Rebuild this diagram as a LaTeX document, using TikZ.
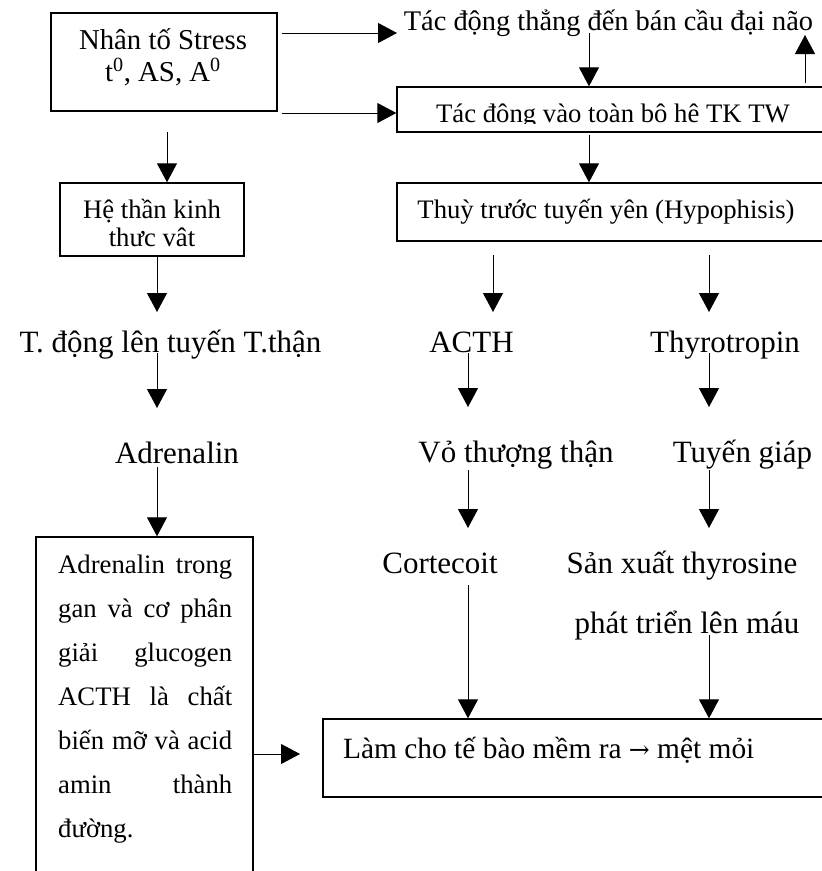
\documentclass[tikz,border=0pt]{standalone}
\usepackage{fontspec}
\setmainfont{Liberation Serif}
\newfontfamily\arrowfont{DejaVu Serif}
\usetikzlibrary{arrows.meta}
\begin{document}
\begin{tikzpicture}[x=1pt,y=-1pt,
  box/.style={draw, line width=1.4pt, inner sep=0pt},
  arr/.style={line width=1pt, -{Triangle[length=19pt,width=20pt]}},
  tbig/.style={inner sep=0pt, anchor=base, font=\fontsize{31}{36}\selectfont},
  tbox/.style={inner sep=0pt, anchor=base, font=\fontsize{26.7}{30}\selectfont},
  tstress/.style={inner sep=0pt, anchor=base, font=\fontsize{28.8}{32}\selectfont},
  ttop/.style={inner sep=0pt, anchor=base, font=\fontsize{28.4}{32}\selectfont},
  tlam/.style={inner sep=0pt, anchor=base west, font=\fontsize{29.4}{32}\selectfont},
  tjust/.style={inner sep=0pt, anchor=base west, font=\fontsize{26.7}{30}\selectfont}
]
\useasboundingbox (0,0) rectangle (822,871);
\clip (0,0) rectangle (822,871);

% boxes
\node[box, minimum width=226pt, minimum height=98pt] (stress) at (164,62) {};
\node[box, minimum width=433pt, minimum height=45pt] (tk) at (613.5,109.5) {};
\node[box, minimum width=433pt, minimum height=58pt] (thuy) at (613.5,212) {};
\node[box, minimum width=184pt, minimum height=73pt] (he) at (152,219.5) {};
\node[box, minimum width=217pt, minimum height=343pt] (adr) at (144.5,708.5) {};
\node[box, minimum width=507pt, minimum height=78pt] (lam) at (576.5,758) {};

% texts
\node[tstress] (s1) at (163,49) {Nhân tố Stress};
\node[tstress] (s2) at (163,81) {t\textsuperscript{0}, AS, A\textsuperscript{0}};
\node[ttop] (toptext) at (608.5,30) {Tác động thẳng đến bán cầu đại não};
\begin{scope}
  \clip (398,88) rectangle (822,123.5);
  \node[tbox] (tktext) at (613,122.5) {Tác đông vào toàn bô hê TK TW};
\end{scope}
\node[tbox] (thuytext) at (606,218) {Thuỳ trước tuyến yên (Hypophisis)};
\node[tbox] (he1) at (152,218) {Hệ thần kinh};
\begin{scope}
  \clip (61,184) rectangle (243,246.5);
  \node[tbox] (he2) at (152,246) {thưc vât};
\end{scope}
\node[tbig] (tdong) at (170.5,352) {T. động lên tuyến T.thận};
\node[tbig] (adren) at (177,463) {Adrenalin};
\node[tbig] (acth) at (471.5,352) {ACTH};
\node[tbig] (thyro) at (725,352) {Thyrotropin};
\node[tbig] (vo) at (516,462) {Vỏ thượng thận};
\node[tbig] (tuyen) at (742.5,462) {Tuyến giáp};
\node[tbig] (cort) at (440,573) {Cortecoit};
\node[tbig] (sanxuat) at (682,573) {Sản xuất thyrosine};
\node[tbig] (phat) at (687,633) {phát triển lên máu};

\node[tjust] (j1) at (58,573) {\makebox[174pt][s]{Adrenalin trong}};
\node[tjust] (j2) at (58,617) {\makebox[174pt][s]{gan và cơ phân}};
\node[tjust] (j3) at (58,661) {\makebox[174pt][s]{giải glucogen}};
\node[tjust] (j4) at (58,705) {\makebox[174pt][s]{ACTH là chất}};
\node[tjust] (j5) at (58,749) {\makebox[174pt][s]{biến mỡ và acid}};
\node[tjust] (j6) at (58,793) {\makebox[174pt][s]{amin thành}};
\node[tjust] (j7) at (58,837) {đường.};

\node[tlam] (lamtext) at (343,758) {Làm cho tế bào mềm ra {\arrowfont\fontsize{25}{30}\selectfont →} mệt mỏi};

% connector end points
\coordinate (a1s) at (282,33);
\coordinate (a1e) at (397,33);
\coordinate (a2s) at (282,113);
\coordinate (b1s) at (589,33);
\coordinate (b2s) at (805,83);
\coordinate (b2e) at (805,35);
\coordinate (b3s) at (589,135);
\coordinate (c0s) at (167,132);
\coordinate (c1e) at (157,312);
\coordinate (c2s) at (157,353);
\coordinate (c2e) at (157,408);
\coordinate (c3s) at (157,467);
\coordinate (d1s) at (493,255);
\coordinate (d1e) at (493,312);
\coordinate (d2s) at (709,255);
\coordinate (d2e) at (709,312);
\coordinate (e1s) at (468,353);
\coordinate (e1e) at (468,407);
\coordinate (e2s) at (709,353);
\coordinate (e2e) at (709,407);
\coordinate (f1s) at (468,470);
\coordinate (f1e) at (468,528);
\coordinate (f2s) at (709,470);
\coordinate (f2e) at (709,528);
\coordinate (g1s) at (468,585);
\coordinate (g2s) at (709,635);
\coordinate (he1x) at (300,754);

% connectors
\draw[arr] (a1s) -- (a1e);
\draw[arr] (a2s) -- (a2s -| tk.west);
\draw[arr] (b1s) -- (b1s |- tk.north);
\draw[arr] (b2s) -- (b2e);
\draw[arr] (b3s) -- (b3s |- thuy.north);
\draw[arr] (c0s) -- (c0s |- he.north);
\draw[arr] (c1e |- he.south) -- (c1e);
\draw[arr] (c2s) -- (c2e);
\draw[arr] (c3s) -- (c3s |- adr.north);
\draw[arr] (d1s) -- (d1e);
\draw[arr] (d2s) -- (d2e);
\draw[arr] (e1s) -- (e1e);
\draw[arr] (e2s) -- (e2e);
\draw[arr] (f1s) -- (f1e);
\draw[arr] (f2s) -- (f2e);
\draw[arr] (g1s) -- (g1s |- lam.north);
\draw[arr] (g2s) -- (g2s |- lam.north);
\draw[arr] (he1x -| adr.east) -- (he1x);
\end{tikzpicture}
\end{document}
